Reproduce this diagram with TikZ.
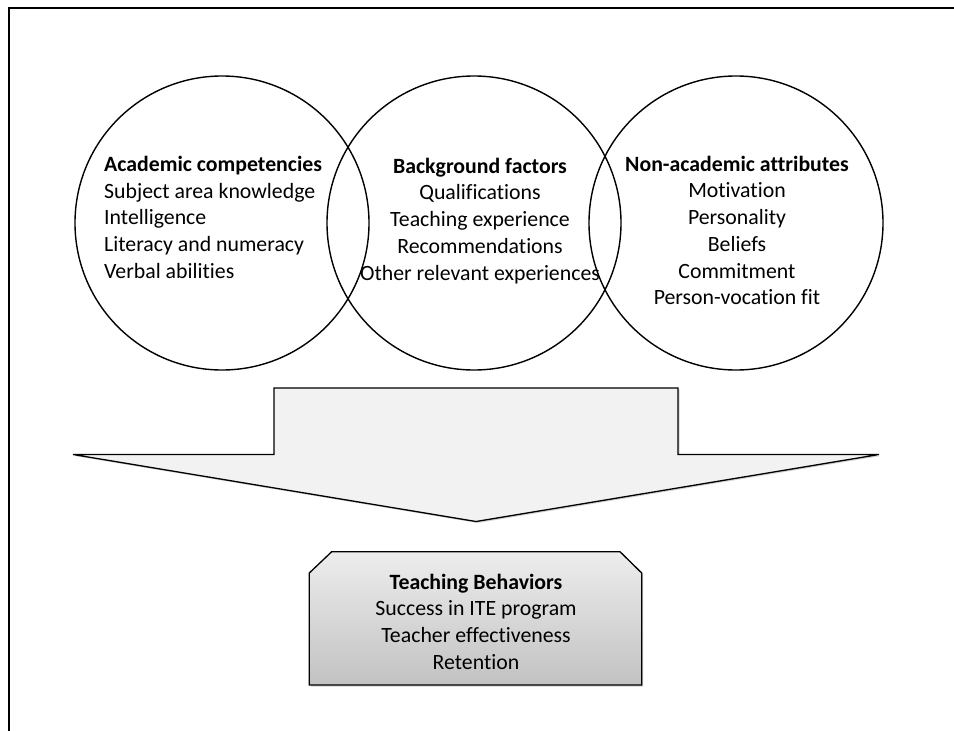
\documentclass[tikz,border=0pt]{standalone}
\usepackage{fontspec}
\setmainfont{Carlito}[Ligatures=NoCommon]
\usetikzlibrary{shadows}

\tikzset{
  ring/.style={draw, circle, line width=1.4pt, minimum size=294pt, inner sep=0pt},
  itemtext/.style={inner sep=0pt, font=\fontsize{21.8}{26.7}\selectfont},
  arrowbody/.style={draw, line width=1.3pt, fill=black!5, drop shadow={opacity=0.35, shadow xshift=1.5pt, shadow yshift=-1.5pt}},
  resultbox/.style={draw, line width=1.3pt, top color=black!7, bottom color=black!24, drop shadow={opacity=0.35, shadow xshift=1.5pt, shadow yshift=-1.5pt}},
}

\begin{document}
\begin{tikzpicture}[x=1pt,y=-1pt]
  % Rahmen
  \useasboundingbox (0,0) rectangle (954,731);
  \fill[white] (0,0) rectangle (954,731);
  \draw[line width=2pt] (9,731) -- (9,8) -- (954,8);
  % Kreise
  \node[ring] (acad) at (222,223) {};
  \node[ring] (backgr) at (474,223) {};
  \node[ring] (nonacad) at (736,223) {};
  % Texte in den Kreisen (base = letzte Zeile)
  \node[itemtext, align=left, anchor=base west] (acadtext) at (104,278.3)
    {\textbf{Academic competencies}\\Subject area knowledge\\Intelligence\\Literacy and numeracy\\Verbal abilities};
  \node[itemtext, align=center, anchor=base] (backgrtext) at (480,280)
    {\textbf{Background factors}\\Qualifications\\Teaching experience\\Recommendations\\Other relevant experiences};
  \node[itemtext, align=center, anchor=base] (nonacadtext) at (737,304.7)
    {\textbf{Non-academic attributes}\\Motivation\\Personality\\Beliefs\\Commitment\\Person-vocation fit};
  % Pfeil
  \draw[arrowbody] (274,388) -- (678,388) -- (678,454.5) -- (879,454.5) -- (476,521.5) -- (73,454.5) -- (274,454.5) -- cycle;
  % Ergebnis
  \draw[resultbox] (331.7,551.7) -- (620,551.7) -- (641.7,573) -- (641.7,685) -- (309.3,685) -- (309.3,573) -- cycle;
  \node[itemtext, align=center, anchor=base] (teachtext) at (476,669.3)
    {\textbf{Teaching Behaviors}\\Success in ITE program\\Teacher effectiveness\\Retention};
\end{tikzpicture}
\end{document}
